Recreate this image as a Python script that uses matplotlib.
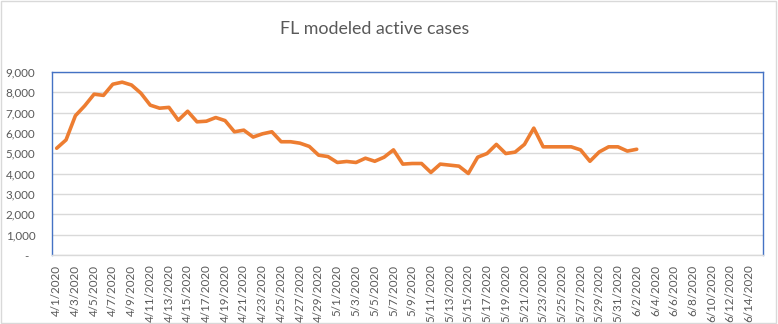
import matplotlib
matplotlib.use("Agg")
import matplotlib.pyplot as plt
import matplotlib.patches as mpatches
from matplotlib.ticker import FuncFormatter
import pandas as pd
import numpy as np

# ---- data ----
title = "FL modeled active cases"
dates = pd.date_range("2020-04-01", "2020-06-15", freq="D")
categories = [f"{d.month}/{d.day}/{d.year}" for d in dates]
active_cases = [
    5250, 5660, 6850, 7340, 7910, 7850, 8400, 8500, 8360, 7960,
    7370, 7220, 7260, 6630, 7070, 6550, 6580, 6760, 6610, 6060,
    6140, 5800, 5960, 6060, 5570, 5570, 5500, 5340, 4910, 4840,
    4550, 4600, 4550, 4760, 4610, 4810, 5170, 4470, 4500, 4500,
    4060, 4470, 4420, 4370, 4010, 4810, 4990, 5440, 4990, 5060,
    5440, 6240, 5320, 5320, 5320, 5320, 5170, 4610, 5070, 5320,
    5320, 5110, 5200,
]
y_ticks = [0, 1000, 2000, 3000, 4000, 5000, 6000, 7000, 8000, 9000]

# ---- style ----
FONT = ["Lato", "DejaVu Sans"]
plt.rcParams["font.family"] = FONT
TXT = "#595959"
GRID = "#D9D9D9"
BLUE = "#4472C4"
ORANGE = "#ED7D31"

W, H = 778, 324
fig = plt.figure(figsize=(W / 100, H / 100), dpi=100)
ax = fig.add_axes([52 / W, 1 - 255 / H, (763 - 52) / W, (255 - 72) / H])

x = np.arange(len(active_cases))
ax.plot(x, active_cases, color=ORANGE, lw=2.6, solid_joinstyle="round",
        solid_capstyle="round", zorder=3)

ax.set_xlim(-0.5, len(categories) - 0.5)
ax.set_ylim(0, 9000)
ax.set_yticks(y_ticks)
ax.yaxis.set_major_formatter(FuncFormatter(lambda v, p: " -  " if v == 0 else f"{int(v):,}"))
ax.grid(axis="y", color=GRID, lw=1.0, zorder=0)
ax.set_axisbelow(True)

tick_pos = np.arange(len(categories))[::2]
ax.set_xticks(tick_pos)
ax.set_xticklabels([categories[i] for i in tick_pos], rotation=90, va="top", ha="center")

ax.tick_params(axis="both", length=0, colors=TXT, labelsize=8.4)
ax.tick_params(axis="y", pad=12)
ax.tick_params(axis="x", pad=7)

for side in ["left", "top", "right"]:
    ax.spines[side].set_color(BLUE)
    ax.spines[side].set_linewidth(1.0)
ax.spines["bottom"].set_color(GRID)
ax.spines["bottom"].set_linewidth(1.0)

fig.text(375 / W, 1 - 29 / H, title, ha="center", va="center",
         fontsize=12.8, color=TXT)

border = mpatches.Rectangle((1 / W, 1 - 322.5 / H), 775 / W, 321.5 / H,
                            transform=fig.transFigure, fill=False,
                            edgecolor=GRID, lw=1.0)
fig.patches.append(border)

fig.savefig("out.png", dpi=100, facecolor="white")
